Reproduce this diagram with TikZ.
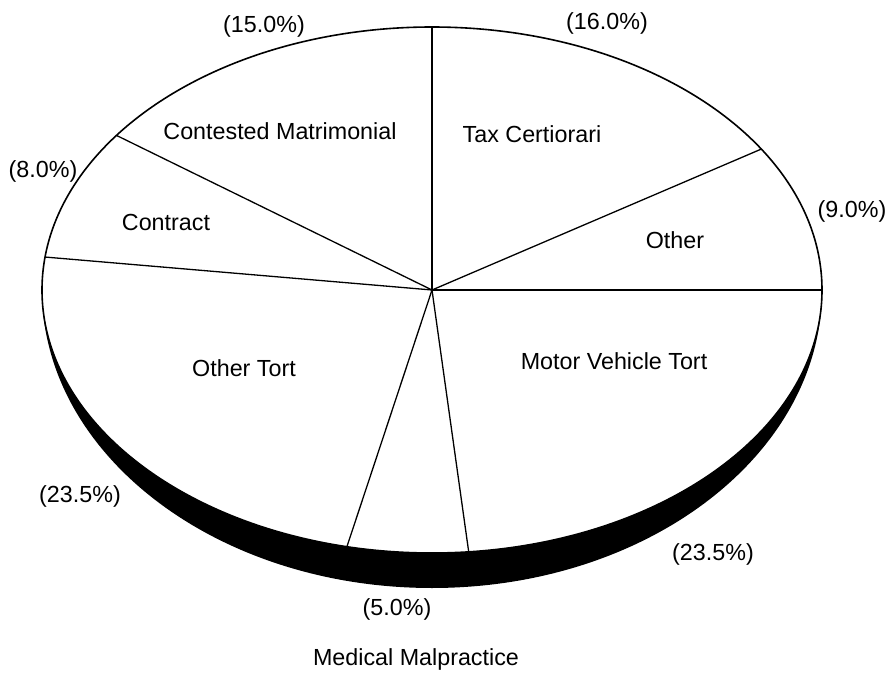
\documentclass[tikz,border=0pt]{standalone}
\usepackage{fontspec}
\setmainfont{Liberation Sans}
\begin{document}
\begin{tikzpicture}[x=1pt,y=-1pt,
  lbl/.style={anchor=base, inner sep=0pt, font=\fontsize{23.3}{28}\selectfont},
  rim/.style={line width=1.6pt},
  spoke/.style={line width=1.3pt},
  band/.style={fill=black}]
\useasboundingbox (0,0) rectangle (892,674);
\coordinate (c) at (432,290);
% dark side band
\fill[band] (42,290) arc[start angle=180,end angle=0,x radius=390,y radius=298]
  -- (822,290) arc[start angle=0,end angle=180,x radius=390,y radius=263] -- cycle;
% top face
\draw[rim, fill=white] (c) ellipse [x radius=390, y radius=263];
% rim points
\foreach \n/\t in {p1/90, p2/32.4, p3/0, p4/-84.6, p5/-102.6, p6/172.8, p7/144}
  \coordinate (\n) at ({432+390*cos(\t)},{290-263*sin(\t)});
\foreach \n in {p1,p2,p3,p4,p5,p6,p7}
  \draw[spoke] (c) -- (\n);
% labels
\node[lbl] (l15) at (264,33) {(15.0\%)};
\node[lbl] (l16) at (607,30) {(16.0\%)};
\node[lbl] (l8) at (43,178) {(8.0\%)};
\node[lbl] (l9) at (852,218) {(9.0\%)};
\node[lbl] (cm) at (280,140) {Contested Matrimonial};
\node[lbl] (ct) at (166,230) {Contract};
\node[lbl] (tc) at (532,143) {Tax Certiorari};
\node[lbl] (ot) at (675,248) {Other};
\node[lbl] (otort) at (244,376) {Other Tort};
\node[lbl] (mvt) at (614,369) {Motor Vehicle Tort};
\node[lbl] (l23a) at (80,502) {(23.5\%)};
\node[lbl] (l23b) at (713,560) {(23.5\%)};
\node[lbl] (l5) at (397,615) {(5.0\%)};
\node[lbl] (mm) at (416,665) {Medical Malpractice};
\end{tikzpicture}
\end{document}
